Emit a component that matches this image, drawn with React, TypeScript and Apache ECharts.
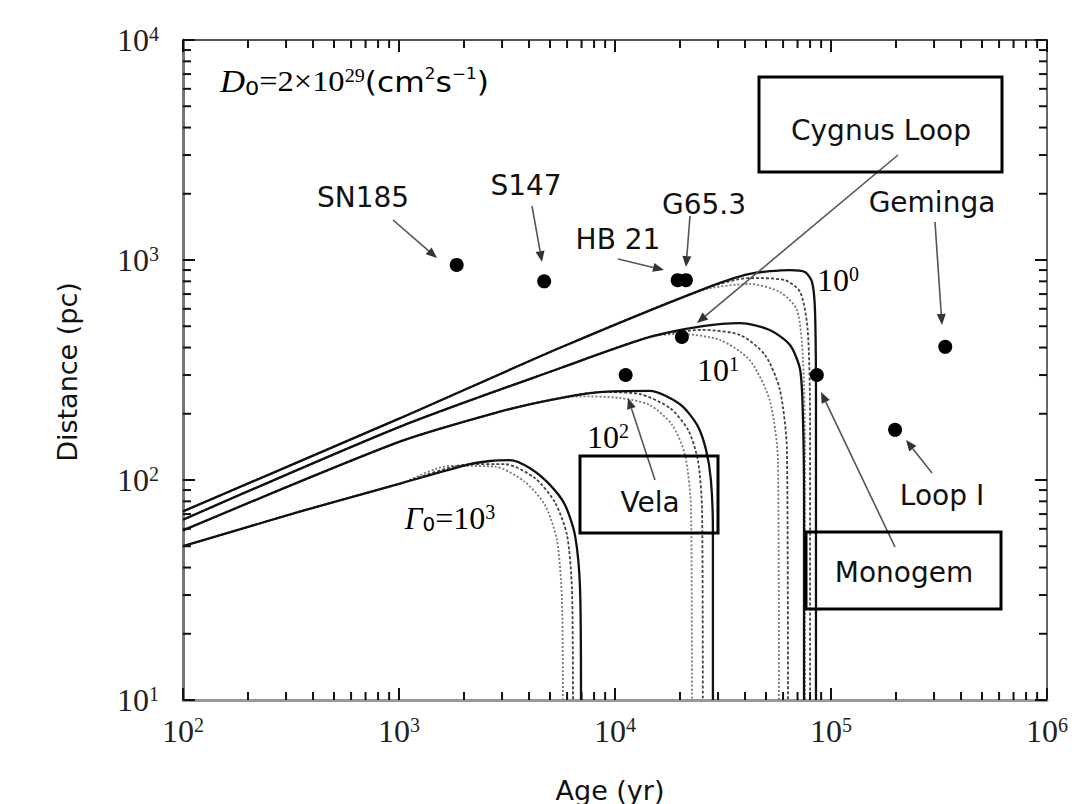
import React, { useEffect, useRef } from "react";
import * as echarts from "echarts";

// ---- data (age in yr, distance in pc) ----
const ageExtent = [100, 1000000];
const distExtent = [10, 10000];

// F0 = 10^0
const g0Solid = [[100, 72], [1000, 190], [5600, 400], [25000, 730], [42000, 864], [64600, 900], [75800, 882], [81700, 794], [84300, 593], [85200, 231], [85200, 10]];
const g0DotA = [[100, 72], [1000, 190], [5600, 400], [25000, 730], [42000, 828], [61000, 811], [72000, 715], [78000, 481], [80000, 187], [80000, 10]];
const g0DotB = [[100, 72], [1000, 190], [5600, 400], [25000, 725], [42000, 778], [58000, 715], [69600, 593], [74200, 351], [75800, 137], [75800, 10]];
// F0 = 10^1
const g1Solid = [[100, 66], [1000, 174], [5600, 323], [14500, 447], [25500, 501], [38000, 517], [52000, 481], [64600, 411], [72000, 316], [74200, 187], [75000, 81], [75000, 10]];
const g1DotA = [[100, 66], [1000, 174], [5600, 323], [14500, 447], [25500, 481], [38000, 456], [49500, 370], [58000, 257], [62500, 137], [63200, 10]];
const g1DotB = [[100, 66], [1000, 174], [5600, 323], [14500, 447], [20000, 461], [30600, 433], [42000, 351], [52000, 231], [56800, 123], [57400, 10]];
// F0 = 10^2
const g2Solid = [[100, 59], [1000, 149], [2900, 204], [5000, 231], [8500, 251], [14500, 254], [20000, 221], [24000, 178], [26400, 137], [27800, 100], [28400, 59], [28400, 10]];
const g2DotA = [[100, 59], [1000, 149], [2900, 204], [5000, 231], [8500, 251], [13000, 246], [18000, 212], [21800, 169], [24200, 123], [25300, 73], [25500, 10]];
const g2DotB = [[100, 59], [1000, 149], [2900, 204], [5000, 231], [6900, 240], [10500, 236], [14500, 219], [18400, 178], [21100, 130], [22500, 73], [22700, 10]];
// F0 = 10^3
const g3Solid = [[100, 50], [350, 72], [1000, 96], [2130, 118], [2640, 122], [3260, 123], [4040, 113], [5000, 95], [5870, 77], [6530, 56], [6890, 32], [6960, 10]];
const g3DotA = [[100, 50], [350, 72], [1000, 96], [2130, 118], [3100, 118], [4260, 102], [5280, 79], [6000, 56], [6320, 32], [6390, 10]];
const g3DotB = [[100, 50], [350, 72], [1000, 96], [1720, 116], [2780, 115], [3830, 98], [4740, 77], [5390, 53], [5680, 28.5], [5740, 10]];

// supernova remnants
const snrNames = ["SN185", "S147", "HB 21", "G65.3", "Cygnus Loop", "Vela", "Monogem", "Geminga", "Loop I"];
const snrAges = [1850, 4700, 19500, 21300, 20400, 11200, 86000, 338000, 198000];
const snrDists = [950, 800, 810, 810, 447, 300, 300, 403, 169];

// ---- styles ----
const SERIF = "Liberation Serif";
const SANS = "DejaVu Sans";
const tickRich = {
  b: { fontSize: 32, fontFamily: SERIF, color: "#222" },
  s: { fontSize: 20, fontFamily: SERIF, color: "#222", verticalAlign: "top" },
};
const expLabel = (v: number) => `{b|10}{s|${Math.round(Math.log10(v))}}`;

const solidStyle = { color: "#111", width: 2.3, type: "solid" };
const dotAStyle = { color: "#444", width: 1.8, type: [3, 2] };
const dotBStyle = { color: "#777", width: 1.8, type: [2, 2] };

function curve(name: string, data: number[][], ls: any, z: number) {
  return {
    name,
    type: "line",
    data,
    showSymbol: false,
    smooth: 0.25,
    lineStyle: ls,
    silent: true,
    z,
  };
}

// minor ticks (2..9 x 10^k) drawn through the axes' own scales
function minorTickData() {
  const out: number[][] = [];
  for (let k = 2; k <= 5; k++)
    for (let m = 2; m <= 9; m++) {
      const t = m * Math.pow(10, k);
      out.push([t, distExtent[0], 0], [t, distExtent[1], 1]);
    }
  for (let k = 1; k <= 3; k++)
    for (let m = 2; m <= 9; m++) {
      const d = m * Math.pow(10, k);
      out.push([ageExtent[0], d, 2], [ageExtent[1], d, 3]);
    }
  return out;
}

function arrow(x1: number, y1: number, x2: number, y2: number) {
  const ang = Math.atan2(y2 - y1, x2 - x1);
  const L = 11, W = 4.5;
  const bx = x2 - L * Math.cos(ang), by = y2 - L * Math.sin(ang);
  const px = -Math.sin(ang) * W, py = Math.cos(ang) * W;
  return [
    { type: "line", shape: { x1, y1, x2: bx, y2: by }, style: { stroke: "#555", lineWidth: 1.6 }, z: 50 },
    { type: "polygon", shape: { points: [[x2, y2], [bx + px, by + py], [bx - px, by - py]] }, style: { fill: "#333" }, z: 50 },
  ];
}

function label(text: string, x: number, y: number, extra: any = {}) {
  return {
    type: "text",
    x, y, z: 60,
    style: { text, fill: "#111", font: `28px '${SANS}'`, align: "center", verticalAlign: "middle", ...extra },
  };
}

function box(x: number, y: number, w: number, h: number) {
  return { type: "rect", shape: { x, y, width: w, height: h }, style: { fill: "none", stroke: "#000", lineWidth: 3 }, z: 55 };
}

const labRich = {
  b: { fontSize: 32, fontFamily: SERIF, color: "#222" },
  s: { fontSize: 20, fontFamily: SERIF, color: "#222", verticalAlign: "top" },
  it: { fontSize: 31, fontFamily: SERIF, fontStyle: "italic", color: "#222" },
  sub: { fontSize: 20, fontFamily: SANS, color: "#222", verticalAlign: "bottom" },
  n: { fontSize: 29, fontFamily: SERIF, color: "#222" },
  sup: { fontSize: 18, fontFamily: SERIF, color: "#222", verticalAlign: "top" },
  t: { fontSize: 28, fontFamily: SANS, color: "#222" },
  tsup: { fontSize: 15, fontFamily: SANS, color: "#222", verticalAlign: "top" },
};

function richText(text: string, x: number, y: number, align = "center", sx = 1) {
  return {
    type: "text", x, y, z: 60, scaleX: sx,
    style: { text, rich: labRich, align, verticalAlign: "middle" },
  };
}

export default function App() {
  const ref = useRef<HTMLDivElement>(null);
  useEffect(() => {
    const chart = echarts.init(ref.current!, null, { renderer: "svg" });
    const graphic: any[] = [
      richText("{it|D}{sub|0}{n|=2×10}{sup|29}{t|(cm}{tsup|2}{t|s}{tsup|−1}{t|)}", 220, 82, "left", 1.12),
      label("SN185", 363, 197), ...arrow(393, 220, 437, 258),
      label("S147", 526, 185), ...arrow(532, 206, 542, 262),
      label("HB 21", 618, 239), ...arrow(618, 259, 664, 270),
      label("G65.3", 704, 204), ...arrow(690, 216, 686, 267),
      box(759, 77, 243, 95), label("Cygnus Loop", 881, 130), ...arrow(898, 155, 697, 323),
      label("Geminga", 932, 202), ...arrow(935, 222, 942, 325),
      box(580, 456, 138, 77), label("Vela", 650, 502), ...arrow(655, 480, 628, 398),
      box(806, 532, 195, 77), label("Monogem", 904, 572), ...arrow(895, 547, 821, 392),
      label("Loop I", 942, 495), ...arrow(932, 473, 906, 440),
      richText("{b|10}{s|0}", 838, 280),
      richText("{b|10}{s|1}", 718, 370),
      richText("{b|10}{s|2}", 608, 437),
      richText("{it|Γ}{sub|0}{b|=10}{s|3}", 450, 518),
      { type: "text", x: 67, y: 372, rotation: Math.PI / 2, z: 60,
        style: { text: "Distance (pc)", font: `27px '${SANS}'`, fill: "#111", align: "center", verticalAlign: "middle" } },
      { type: "text", x: 610, y: 790, z: 60,
        style: { text: "Age (yr)", font: `27px '${SANS}'`, fill: "#111", align: "center", verticalAlign: "middle" } },
    ];

    const option: any = {
      animation: false,
      backgroundColor: "#fff",
      grid: { left: 183, right: 32, top: 40, bottom: 104, containLabel: false },
      xAxis: [
        {
          type: "log", logBase: 10, min: ageExtent[0], max: ageExtent[1], position: "bottom",
          axisLine: { show: true, lineStyle: { color: "#999", width: 3 } },
          axisTick: { show: true, inside: true, length: 12, lineStyle: { color: "#111", width: 2 } },
          axisLabel: { margin: 15, formatter: expLabel, rich: tickRich },
          splitLine: { show: false },
        },
        {
          type: "log", logBase: 10, min: ageExtent[0], max: ageExtent[1], position: "top",
          axisLine: { show: true, lineStyle: { color: "#555", width: 2 } },
          axisTick: { show: true, inside: true, length: 12, lineStyle: { color: "#111", width: 2 } },
          axisLabel: { show: false }, splitLine: { show: false },
        },
      ],
      yAxis: [
        {
          type: "log", logBase: 10, min: distExtent[0], max: distExtent[1], position: "left",
          axisLine: { show: true, lineStyle: { color: "#777", width: 3 } },
          axisTick: { show: true, inside: true, length: 12, lineStyle: { color: "#111", width: 2 } },
          axisLabel: { margin: 24, formatter: expLabel, rich: tickRich },
          splitLine: { show: false },
        },
        {
          type: "log", logBase: 10, min: distExtent[0], max: distExtent[1], position: "right",
          axisLine: { show: true, lineStyle: { color: "#666", width: 2 } },
          axisTick: { show: true, inside: true, length: 12, lineStyle: { color: "#111", width: 2 } },
          axisLabel: { show: false }, splitLine: { show: false },
        },
      ],
      series: [
        curve("F0=1e3 B", g3DotB, dotBStyle, 2), curve("F0=1e3 A", g3DotA, dotAStyle, 2), curve("F0=1e3", g3Solid, solidStyle, 3),
        curve("F0=1e2 B", g2DotB, dotBStyle, 2), curve("F0=1e2 A", g2DotA, dotAStyle, 2), curve("F0=1e2", g2Solid, solidStyle, 3),
        curve("F0=1e1 B", g1DotB, dotBStyle, 2), curve("F0=1e1 A", g1DotA, dotAStyle, 2), curve("F0=1e1", g1Solid, solidStyle, 3),
        curve("F0=1e0 B", g0DotB, dotBStyle, 2), curve("F0=1e0 A", g0DotA, dotAStyle, 2), curve("F0=1e0", g0Solid, solidStyle, 3),
        {
          name: "SNR", type: "scatter", symbol: "circle", symbolSize: 14, z: 10,
          itemStyle: { color: "#000", opacity: 1 },
          data: snrAges.map((a, i) => ({ name: snrNames[i], value: [a, snrDists[i]] })),
        },
        {
          name: "minorTicks", type: "custom", clip: false, silent: true, z: 4,
          data: minorTickData(),
          renderItem: (_p: any, api: any) => {
            const p = api.coord([api.value(0), api.value(1)]);
            const dir = api.value(2);
            const len = 8;
            let x2 = p[0], y2 = p[1];
            if (dir === 0) y2 -= len; else if (dir === 1) y2 += len; else if (dir === 2) x2 += len; else x2 -= len;
            return { type: "line", shape: { x1: p[0], y1: p[1], x2, y2 }, style: { stroke: "#111", lineWidth: 2 } };
          },
        },
      ],
      graphic,
    };
    chart.setOption(option);
    return () => chart.dispose();
  }, []);
  return <div ref={ref} style={{ position: "absolute", left: 0, top: 0, width: 1079, height: 804, background: "#fff" }} />;
}
